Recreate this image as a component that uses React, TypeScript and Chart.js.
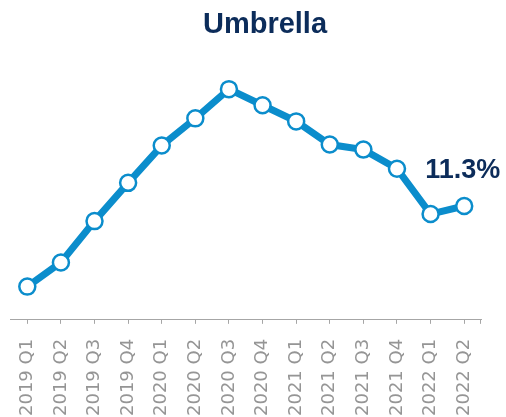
import React, { useEffect, useRef } from "react";
import { Chart, registerables } from "chart.js";

Chart.register(...registerables);

// Quarterly share, in percent
const quarters: string[] = [
  "2019 Q1", "2019 Q2", "2019 Q3", "2019 Q4",
  "2020 Q1", "2020 Q2", "2020 Q3", "2020 Q4",
  "2021 Q1", "2021 Q2", "2021 Q3", "2021 Q4",
  "2022 Q1", "2022 Q2",
];
const shareValues: number[] = [
  7.3, 8.5, 10.55, 12.45,
  14.3, 15.65, 17.1, 16.3,
  15.5, 14.35, 14.1, 13.15,
  10.9, 11.3,
];
const chartTitle = "Umbrella";
const yRange: number[] = [5.65, 18.05];

const LINE_BLUE = "#0b8dcc";
const NAVY = "#0c2c5a";
const AXIS_GREY = "#a6a6a6";
const LABEL_GREY = "#959595";

const titlePlugin = {
  id: "topTitle",
  afterDraw(chart: Chart) {
    const { ctx } = chart;
    ctx.save();
    ctx.font = "bold 29px 'Liberation Sans', Arial, sans-serif";
    ctx.fillStyle = NAVY;
    ctx.textAlign = "center";
    ctx.textBaseline = "alphabetic";
    ctx.fillText(chartTitle, 265, 33);
    ctx.restore();
  },
};

// small closing tick at the right end of the category axis
const axisEndTickPlugin = {
  id: "axisEndTick",
  afterDraw(chart: Chart) {
    const { ctx, chartArea } = chart;
    const x = Math.round(chartArea.right) - 0.5;
    ctx.save();
    ctx.strokeStyle = AXIS_GREY;
    ctx.lineWidth = 1;
    ctx.beginPath();
    ctx.moveTo(x, chartArea.bottom);
    ctx.lineTo(x, chartArea.bottom + 4);
    ctx.stroke();
    ctx.restore();
  },
};

const calloutPlugin = {
  id: "lastValueCallout",
  afterDatasetsDraw(chart: Chart) {
    const meta = chart.getDatasetMeta(0);
    const last = shareValues.length - 1;
    const pt = meta.data[last];
    if (!pt) return;
    const { ctx } = chart;
    ctx.save();
    ctx.font = "bold 27px 'Liberation Sans', Arial, sans-serif";
    ctx.fillStyle = NAVY;
    ctx.textAlign = "center";
    ctx.textBaseline = "alphabetic";
    ctx.fillText(`${shareValues[last].toFixed(1)}%`, pt.x - 1.5, pt.y - 28);
    ctx.restore();
  },
};

export default function App() {
  const canvasRef = useRef<HTMLCanvasElement | null>(null);

  useEffect(() => {
    if (!canvasRef.current) return;
    const chart = new Chart(canvasRef.current, {
      type: "line",
      data: {
        labels: quarters,
        datasets: [
          {
            data: shareValues,
            borderColor: LINE_BLUE,
            borderWidth: 7,
            pointRadius: 8,
            pointHoverRadius: 8,
            pointBackgroundColor: "#ffffff",
            pointBorderColor: LINE_BLUE,
            pointBorderWidth: 2.5,
            tension: 0,
            fill: false,
            clip: false,
          },
        ],
      },
      options: {
        responsive: false,
        animation: false,
        layout: { padding: { top: 70, left: 10, right: 25, bottom: -14 } },
        plugins: {
          legend: { display: false },
          title: { display: false },
          tooltip: { enabled: false },
        },
        scales: {
          x: {
            offset: true,
            grid: {
              offset: false,
              drawOnChartArea: false,
              drawTicks: true,
              tickLength: 4,
              color: AXIS_GREY,
            },
            border: { display: true, color: AXIS_GREY, width: 1 },
            ticks: {
              autoSkip: false,
              minRotation: 90,
              maxRotation: 90,
              padding: 15,
              color: LABEL_GREY,
              font: { family: "'DejaVu Sans', sans-serif", size: 18 },
            },
          },
          y: {
            display: false,
            min: yRange[0],
            max: yRange[1],
          },
        },
      },
      plugins: [titlePlugin, axisEndTickPlugin, calloutPlugin],
    });
    return () => chart.destroy();
  }, []);

  return (
    <div style={{ position: "fixed", left: 0, top: 0, width: 506, height: 417, background: "#fff" }}>
      <canvas ref={canvasRef} width={506} height={417} />
    </div>
  );
}
